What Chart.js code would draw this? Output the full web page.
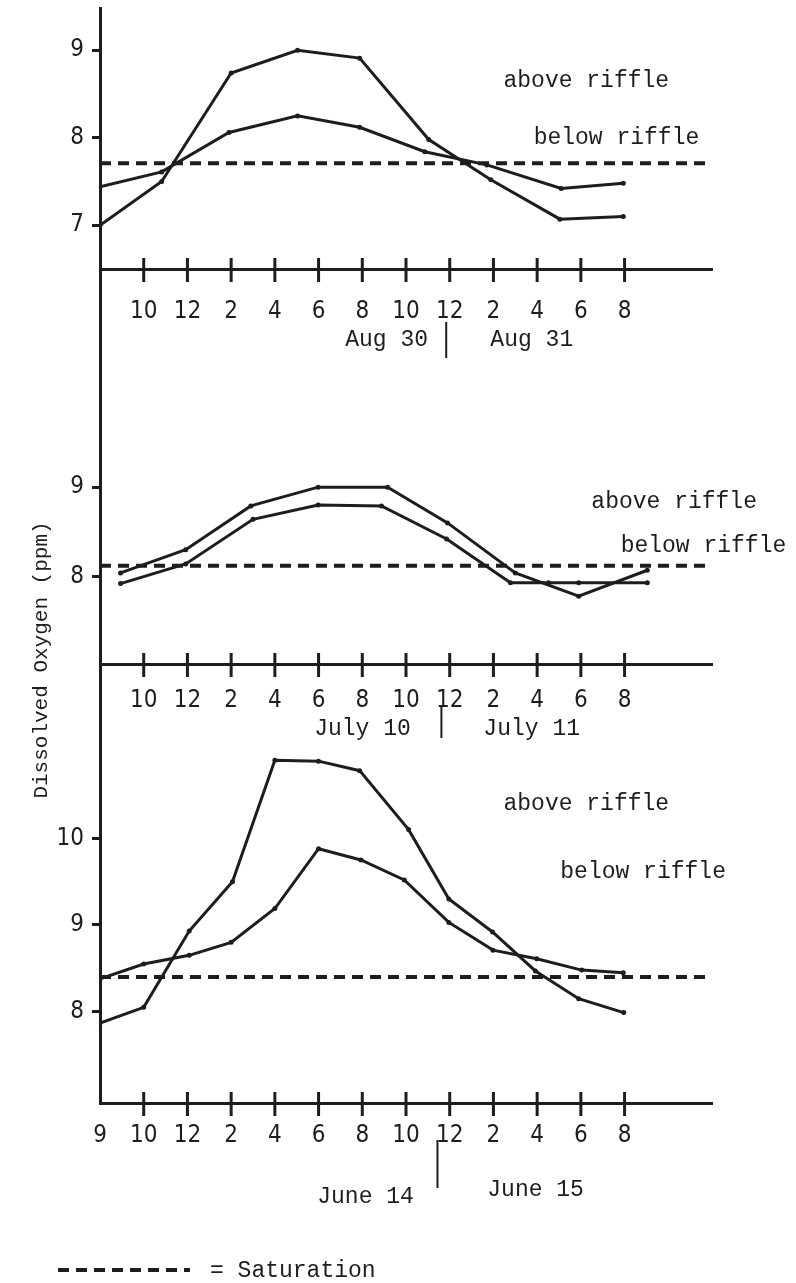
<!DOCTYPE html>
<html>
<head>
<meta charset="utf-8">
<script src="https://cdn.jsdelivr.net/npm/chart.js@4.4.1/dist/chart.umd.min.js"></script>
<style>
  html, body { margin: 0; padding: 0; background: #fff; }
  #wrap { position: relative; width: 796px; height: 1283px; }
  #wrap canvas { position: absolute; left: 0; top: 0; }
</style>
</head>
<body>
<div id="wrap">
  <canvas id="aug" width="796" height="1283"></canvas>
  <canvas id="july" width="796" height="1283"></canvas>
  <canvas id="june" width="796" height="1283"></canvas>
</div>
<script>
'use strict';

// x values are slots on the hand drawn time axis: 0 = 9am, 1 = 10, 2 = 12, 3 = 2pm ...
const HOUR_LABELS = ['9', '10', '12', '2', '4', '6', '8', '10', '12', '2', '4', '6', '8'];

// Aug 30 - Aug 31
const AUG_ABOVE_X = [0, 1.41, 3.0, 4.52, 5.94, 7.52, 8.94, 10.52, 11.97];
const AUG_ABOVE_Y = [7.0, 7.5, 8.74, 9.0, 8.91, 7.98, 7.52, 7.07, 7.10];
const AUG_BELOW_X = [0, 1.41, 2.95, 4.52, 5.94, 7.43, 8.85, 10.55, 11.97];
const AUG_BELOW_Y = [7.44, 7.61, 8.06, 8.25, 8.12, 7.84, 7.69, 7.42, 7.48];
const AUG_SATURATION = 7.71;
const AUG_Y_TICKS = [7, 8, 9];

// July 10 - July 11
const JULY_ABOVE_X = [0.47, 1.96, 3.45, 4.99, 6.58, 7.95, 9.50, 10.95, 12.52];
const JULY_ABOVE_Y = [8.04, 8.30, 8.79, 9.0, 9.0, 8.60, 8.04, 7.78, 8.07];
const JULY_BELOW_X = [0.47, 1.96, 3.5, 4.99, 6.44, 7.93, 9.39, 10.26, 10.95, 12.52];
const JULY_BELOW_Y = [7.92, 8.14, 8.64, 8.80, 8.79, 8.42, 7.93, 7.93, 7.93, 7.93];
const JULY_SATURATION = 8.12;
const JULY_Y_TICKS = [8, 9];

// June 14 - June 15
const JUNE_ABOVE_X = [0, 1.0, 2.04, 3.03, 4.0, 5.0, 5.94, 7.06, 7.98, 8.98, 9.96, 10.95, 11.98];
const JUNE_ABOVE_Y = [7.87, 8.05, 8.93, 9.50, 10.90, 10.89, 10.78, 10.10, 9.30, 8.92, 8.47, 8.15, 7.99];
const JUNE_BELOW_X = [0, 1.0, 2.04, 3.0, 4.0, 5.0, 5.97, 6.96, 7.98, 8.99, 9.99, 11.02, 11.97];
const JUNE_BELOW_Y = [8.38, 8.55, 8.65, 8.80, 9.19, 9.88, 9.75, 9.52, 9.03, 8.71, 8.61, 8.48, 8.45];
const JUNE_SATURATION = 8.40;
const JUNE_Y_TICKS = [8, 9, 10];

const INK = '#1d1d1d';
const MONO = '"Liberation Mono", "DejaVu Sans Mono", monospace';
const NARROW = '"Liberation Sans Narrow", "DejaVu Sans Condensed", "Liberation Sans", sans-serif';
const PAGE_H = 1283;
const TICK_MARKS = [1, 2, 3, 4, 5, 6, 7, 8, 9, 10, 11, 12];

function pts(xs, ys) {
    return xs.map((x, i) => ({x: x, y: ys[i]}));
}

function seriesLine(xs, ys) {
    return {
        data: pts(xs, ys),
        borderColor: INK,
        backgroundColor: INK,
        borderWidth: 3,
        pointRadius: 2.5,
        pointBorderWidth: 0,
        tension: 0
    };
}

// typed labels, crossing tick marks, the day separator
function paperPlugin(p) {
    return {
        id: 'paper_' + p.id,
        afterDraw(chart) {
            const ctx = chart.ctx;
            const area = chart.chartArea;
            const xs = chart.scales.x;
            const ys = chart.scales.y;
            ctx.save();
            ctx.strokeStyle = INK;
            ctx.fillStyle = INK;
            ctx.lineWidth = 3;
            if (p.connectTo) {
                ctx.beginPath();
                ctx.moveTo(area.left + 0.5, area.bottom);
                ctx.lineTo(area.left + 0.5, p.connectTo + 2);
                ctx.stroke();
            }
            TICK_MARKS.forEach(function (i) {
                const x = xs.getPixelForValue(i);
                ctx.beginPath();
                ctx.moveTo(x, area.bottom - 11);
                ctx.lineTo(x, area.bottom + 13);
                ctx.stroke();
            });
            ctx.font = '23px ' + MONO;
            ctx.textBaseline = 'middle';
            ctx.textAlign = 'left';
            p.notes.forEach(function (n) {
                ctx.fillText(n.text, xs.getPixelForValue(n.x), ys.getPixelForValue(n.y));
            });
            p.dates.forEach(function (d) {
                ctx.fillText(d.text, xs.getPixelForValue(d.x), area.bottom + d.dy);
            });
            ctx.lineWidth = 2;
            const sx = xs.getPixelForValue(p.sep.x);
            ctx.beginPath();
            ctx.moveTo(sx, area.bottom + p.sep.dy1);
            ctx.lineTo(sx, area.bottom + p.sep.dy2);
            ctx.stroke();
            if (p.extra) p.extra(ctx, area);
            ctx.restore();
        }
    };
}

function panel(p) {
    const datasets = [
        seriesLine(p.aboveX, p.aboveY),
        seriesLine(p.belowX, p.belowY),
        {
            data: [{x: 0, y: p.sat}, {x: 14, y: p.sat}],
            borderColor: INK,
            borderWidth: 4,
            borderDash: [11, 7],
            pointRadius: 0
        }
    ];
    return new Chart(document.getElementById(p.id), {
        type: 'line',
        data: {datasets: datasets},
        options: {
            responsive: false,
            animation: false,
            events: [],
            layout: {padding: {top: p.top, right: 84, left: 0, bottom: 0}},
            plugins: {legend: {display: false}, tooltip: {enabled: false}},
            scales: {
                x: {
                    type: 'linear',
                    min: 0,
                    max: 14,
                    grid: {display: true, drawOnChartArea: false, drawTicks: false},
                    border: {color: INK, width: 3},
                    afterBuildTicks: s => { s.ticks = p.labelTicks.map(v => ({value: v})); },
                    afterFit: s => { s.height = PAGE_H - p.bottom; s.paddingLeft = 0; s.paddingRight = 0; },
                    ticks: {
                        padding: p.tickPad,
                        color: INK,
                        font: {family: NARROW, size: 24},
                        maxRotation: 0,
                        autoSkip: false,
                        callback: v => HOUR_LABELS[v]
                    }
                },
                y: {
                    min: p.yMin,
                    max: p.yMax,
                    afterBuildTicks: s => { s.ticks = p.yTicks.map(v => ({value: v})); },
                    afterFit: s => { s.width = 100; s.paddingTop = 0; s.paddingBottom = 0; },
                    grid: {drawOnChartArea: false, drawTicks: true, tickLength: 8, lineWidth: 3, color: INK},
                    border: {color: INK, width: 3},
                    ticks: {padding: 8, color: INK, font: {family: NARROW, size: 24}, callback: v => String(v)}
                }
            }
        },
        plugins: [paperPlugin(p)]
    });
}

panel({
    id: 'aug', top: 8, bottom: 269, yMin: 6.5, yMax: 9.483, tickPad: 28, connectTo: 380,
    yTicks: AUG_Y_TICKS, labelTicks: TICK_MARKS,
    aboveX: AUG_ABOVE_X, aboveY: AUG_ABOVE_Y, belowX: AUG_BELOW_X, belowY: AUG_BELOW_Y,
    sat: AUG_SATURATION,
    notes: [{text: 'above riffle', x: 9.23, y: 8.65}, {text: 'below riffle', x: 9.92, y: 8.0}],
    dates: [{text: 'Aug 30', x: 5.61, dy: 71}, {text: 'Aug 31', x: 8.93, dy: 71}],
    sep: {x: 7.92, dy1: 53, dy2: 89}
});

panel({
    id: 'july', top: 380, bottom: 664, yMin: 7.02, yMax: 10.2, tickPad: 22, connectTo: 745,
    yTicks: JULY_Y_TICKS, labelTicks: TICK_MARKS,
    aboveX: JULY_ABOVE_X, aboveY: JULY_ABOVE_Y, belowX: JULY_BELOW_X, belowY: JULY_BELOW_Y,
    sat: JULY_SATURATION,
    notes: [{text: 'above riffle', x: 11.24, y: 8.83}, {text: 'below riffle', x: 11.91, y: 8.34}],
    dates: [{text: 'July 10', x: 4.9, dy: 65}, {text: 'July 11', x: 8.77, dy: 65}],
    sep: {x: 7.81, dy1: 43, dy2: 74}
});

panel({
    id: 'june', top: 745, bottom: 1103, yMin: 6.947, yMax: 11.076, tickPad: 18,
    yTicks: JUNE_Y_TICKS, labelTicks: [0].concat(TICK_MARKS),
    aboveX: JUNE_ABOVE_X, aboveY: JUNE_ABOVE_Y, belowX: JUNE_BELOW_X, belowY: JUNE_BELOW_Y,
    sat: JUNE_SATURATION,
    notes: [{text: 'above riffle', x: 9.23, y: 10.40}, {text: 'below riffle', x: 10.53, y: 9.61}],
    dates: [{text: 'June 14', x: 4.97, dy: 94}, {text: 'June 15', x: 8.86, dy: 87}],
    sep: {x: 7.72, dy1: 37, dy2: 85},
    extra: function (ctx, area) {
        // shared axis title, runs across the middle panels
        ctx.save();
        ctx.translate(area.left - 59, 660);
        ctx.rotate(-Math.PI / 2);
        ctx.textAlign = 'center';
        ctx.font = '21px ' + MONO;
        ctx.fillText('Dissolved Oxygen (ppm)', 0, 0);
        ctx.restore();
        // key for the dashed line
        ctx.save();
        ctx.lineWidth = 4;
        ctx.setLineDash([11, 7]);
        ctx.beginPath();
        ctx.moveTo(58, 1270);
        ctx.lineTo(190, 1270);
        ctx.stroke();
        ctx.restore();
        ctx.fillText('= Saturation', 210, 1271);
    }
});
</script>
</body>
</html>
